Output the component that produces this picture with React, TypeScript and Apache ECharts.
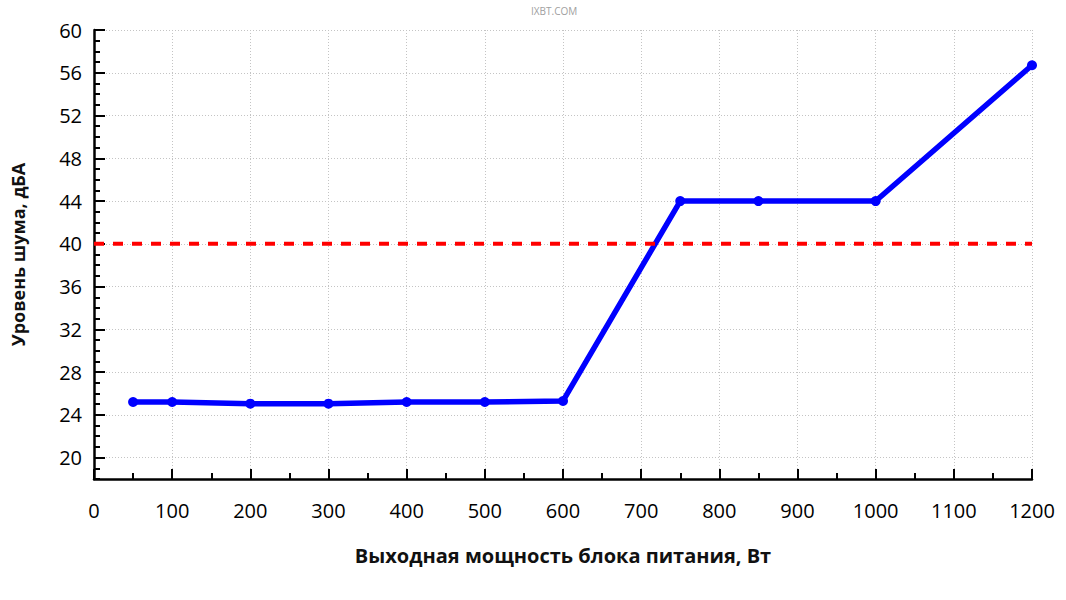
import React, { useEffect, useRef } from "react";
import * as echarts from "echarts";

const powerW = [50, 100, 200, 300, 400, 500, 600, 750, 850, 1000, 1200];
const noiseDb = [25.2, 25.2, 25.05, 25.05, 25.2, 25.2, 25.3, 44, 44, 44, 56.7];
const thresholdDb = 40;
const yMajorTicks = [20, 24, 28, 32, 36, 40, 44, 48, 52, 56, 60];
const xName = "Выходная мощность блока питания, Вт";
const yName = "Уровень шума, дБА";
const watermark = "IXBT.COM";

const FONT = "'Open Sans', 'Noto Sans', sans-serif";

export default function App() {
  const ref = useRef<HTMLDivElement>(null);
  useEffect(() => {
    if (!ref.current) return;
    const chart = echarts.init(ref.current, null, { renderer: "svg" });
    const gridLine = { show: true, lineStyle: { color: "#c4c4c4", width: 1, type: [1, 2] as any } };
    const tickStyle = { color: "#000", width: 2 };
    chart.setOption({
      animation: false,
      backgroundColor: "#fff",
      textStyle: { fontFamily: FONT },
      graphic: [
        {
          type: "text",
          left: 531,
          top: 6,
          style: { text: watermark, fill: "#a0a0a0", fontSize: 10, fontFamily: FONT },
        },
      ],
      grid: { left: 94, right: 34, top: 30, bottom: 121, containLabel: false },
      xAxis: {
        type: "value",
        min: 0,
        max: 1200,
        interval: 100,
        name: xName,
        nameLocation: "middle",
        nameGap: 66,
        nameTextStyle: { fontSize: 20, fontWeight: "bold", color: "#111", fontFamily: FONT },
        axisLine: { show: true, onZero: false, lineStyle: { color: "#000", width: 2.5 } },
        axisTick: { show: true, inside: true, length: 10, lineStyle: tickStyle },
        minorTick: { show: true, splitNumber: 2, length: 6, lineStyle: tickStyle },
        axisLabel: {
          color: "#000",
          fontSize: 20,
          fontWeight: 500,
          margin: 21,
          fontFamily: FONT,
          formatter: (v: number) => String(v),
        },
        splitLine: gridLine,
      },
      yAxis: [
        {
          type: "value",
          min: 18,
          max: 60,
          position: "left",
          name: yName,
          nameLocation: "middle",
          nameGap: 67,
          nameRotate: 90,
          nameTextStyle: { fontSize: 18, fontWeight: "bold", color: "#111", fontFamily: FONT },
          axisLine: { show: true, onZero: false, lineStyle: { color: "#000", width: 2.5 } },
          axisTick: { show: true, inside: true, length: 11, lineStyle: tickStyle, customValues: yMajorTicks },
          axisLabel: {
            color: "#000",
            fontSize: 20,
            fontWeight: 500,
            margin: 12,
            fontFamily: FONT,
            customValues: yMajorTicks,
          },
          splitLine: gridLine,
        },
        {
          type: "value",
          min: 18,
          max: 60,
          interval: 1,
          position: "left",
          offset: 0,
          axisLine: { show: false },
          axisTick: { show: true, inside: true, length: 6, lineStyle: tickStyle },
          axisLabel: { show: false },
          splitLine: { show: false },
        },
      ],
      series: [
        {
          type: "line",
          yAxisIndex: 0,
          data: powerW.map((x, i) => [x, noiseDb[i]]),
          symbol: "circle",
          symbolSize: 10,
          lineStyle: { color: "#0000ff", width: 5.5 },
          itemStyle: { color: "#0000ff" },
          z: 3,
        },
        {
          type: "line",
          yAxisIndex: 0,
          data: [
            [0, thresholdDb],
            [1200, thresholdDb],
          ],
          symbol: "none",
          lineStyle: { color: "#ff0000", width: 4, type: [10, 9] as any },
          z: 4,
        },
      ],
    });
    return () => chart.dispose();
  }, []);
  return <div ref={ref} style={{ position: "absolute", left: 0, top: 0, width: 1066, height: 600 }} />;
}
